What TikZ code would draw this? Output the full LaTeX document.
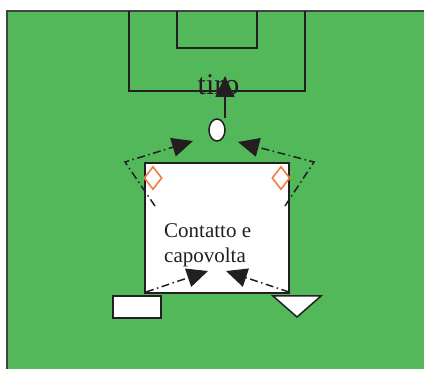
\documentclass[tikz,border=0pt]{standalone}
\usepackage{fontspec}
\setmainfont{Liberation Serif}
\usetikzlibrary{arrows.meta,shapes.geometric}
\definecolor{field}{HTML}{52B85A}
\definecolor{cone}{HTML}{F47C3C}
\definecolor{ink}{HTML}{231F20}
\begin{document}
\begin{tikzpicture}[x=1pt,y=-1pt,
  line/.style={draw=ink,line width=1.5pt},
  dd/.style={draw=ink,line width=1.5pt,dash pattern=on 8pt off 3.5pt on 1.5pt off 3.5pt,
    -{Triangle[length=21pt,width=19pt]}},
  solidarrow/.style={draw=ink,line width=1.5pt,-{Triangle[length=21pt,width=19pt]}},
  conemark/.style={draw=cone,line width=1.6pt,diamond,minimum width=18pt,minimum height=23pt,inner sep=0pt,aspect=0.78},
  lbl/.style={font=\fontsize{21}{25}\selectfont,text=ink,inner sep=0pt,anchor=base west}]
\useasboundingbox (0,0) rectangle (424,369);
\fill[white] (0,0) rectangle (424,369);
\fill[field] (7,11) rectangle (424,369);
\draw[ink!85,line width=1.4pt] (7,369) -- (7,11) -- (424,11);
% penalty box and goal area
\draw[line] (129,11) -- (129,91) -- (305,91) -- (305,11);
\draw[line] (177,11) -- (177,48) -- (257,48) -- (257,11);
% mat
\node[line,fill=white,minimum width=144pt,minimum height=130pt,inner sep=0pt] (mat) at (217,228) {};
% cones
\node[conemark] (c1) at (153,178) {};
\node[conemark] (c2) at (281,178) {};
% ball
\node[line,fill=white,ellipse,minimum width=16pt,minimum height=22pt,inner sep=0pt] (ball) at (217,130) {};
% tiro
\node[font=\fontsize{30}{34}\selectfont,text=ink,inner sep=0pt,anchor=base] (tiro) at (218.5,95) {tiro};
\coordinate (shotstart) at (225,118);
\coordinate (shotend) at (225,76);
\draw[solidarrow] (shotstart) -- (shotend);
% text
\node[lbl] (t1) at (164,237) {Contatto e};
\node[lbl] (t2) at (164,262) {capovolta};
% start coordinates
\coordinate (ls) at (155,206);
\coordinate (lc) at (125,162);
\coordinate (lt) at (193,141);
\coordinate (rs) at (285,206);
\coordinate (rc) at (314,162);
\coordinate (rt) at (238,142);
\draw[dd] (ls) -- (lc) -- (lt);
\draw[dd] (rs) -- (rc) -- (rt);
\coordinate (bl) at (146,292);
\coordinate (blt) at (208,271);
\coordinate (br) at (289,292);
\coordinate (brt) at (226,271);
\draw[dd] (bl) -- (blt);
\draw[dd] (br) -- (brt);
% small rectangle and triangle
\node[line,fill=white,minimum width=48pt,minimum height=22pt,inner sep=0pt] (box) at (137,307) {};
\draw[line,fill=white] (273,296) -- (321,296) -- (297,317) -- cycle;
\end{tikzpicture}
\end{document}
